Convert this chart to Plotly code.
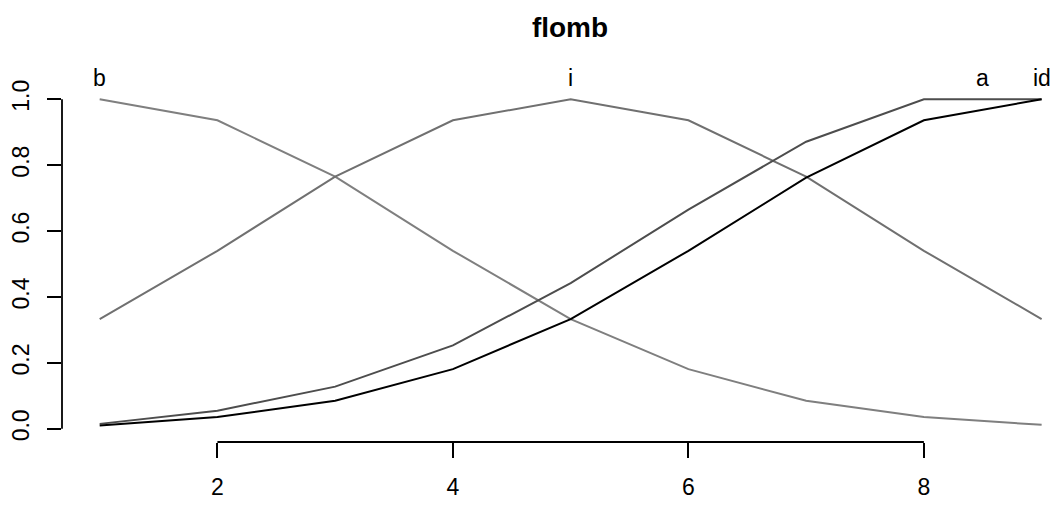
import plotly.graph_objects as go

# Membership curves over the 1..9 scale
x_vals = [1, 2, 3, 4, 5, 6, 7, 8, 9]
b_vals = [1.0, 0.936, 0.765, 0.54, 0.333, 0.181, 0.085, 0.036, 0.012]
i_vals = [0.333, 0.54, 0.765, 0.936, 1.0, 0.936, 0.765, 0.54, 0.333]
a_vals = [0.015, 0.055, 0.128, 0.253, 0.442, 0.665, 0.871, 1.0, 1.0]
id_vals = [0.01, 0.036, 0.085, 0.181, 0.333, 0.54, 0.762, 0.936, 1.0]

series_names = ["b", "i", "a", "id"]
label_x = [1, 5, 8.5, 9]
label_y = 1.064
x_ticks = [2, 4, 6, 8]
y_ticks = [0.0, 0.2, 0.4, 0.6, 0.8, 1.0]
y_tick_text = ["0.0", "0.2", "0.4", "0.6", "0.8", "1.0"]

colors = {"b": "#7f7f7f", "i": "#707070", "a": "#4d4d4d", "id": "#000000"}
font_family = "Liberation Sans, Arial, sans-serif"

y_range = [-0.04, 1.04]

fig = go.Figure()
for name, ys in zip(series_names, [b_vals, i_vals, a_vals, id_vals]):
    fig.add_trace(go.Scatter(
        x=x_vals, y=ys, mode="lines", name=name,
        line=dict(color=colors[name], width=2),
        hoverinfo="skip", showlegend=False, cliponaxis=False,
    ))

# Series labels above the plot area (converted to paper units so they are not clipped)
label_paper_y = (label_y - y_range[0]) / (y_range[1] - y_range[0])
for name, lx in zip(series_names, label_x):
    fig.add_annotation(
        x=lx, y=label_paper_y, xref="x", yref="paper", text=name, showarrow=False,
        font=dict(family=font_family, size=23, color="black"),
        xanchor="center", yanchor="middle",
    )

# Axis lines spanning only the first to last tick
fig.add_shape(type="line", xref="x", yref="paper", x0=x_ticks[0], x1=x_ticks[-1],
              y0=0, y1=0, line=dict(color="black", width=1.8))
fig.add_shape(type="line", xref="paper", yref="y", x0=0, x1=0,
              y0=y_ticks[0], y1=y_ticks[-1], line=dict(color="black", width=1.8))

fig.update_layout(
    width=1058, height=505,
    margin=dict(l=61.5, r=0, t=85.8, b=62.8),
    paper_bgcolor="white", plot_bgcolor="white",
    title=dict(text="<b>flomb</b>", x=570 / 1058, xanchor="center",
               y=1 - 27 / 505, yanchor="middle", yref="container",
               font=dict(family=font_family, size=28, color="black")),
    font=dict(family=font_family, size=23, color="black"),
    xaxis=dict(range=[0.68, 9.139], tickvals=x_ticks, ticks="outside", ticklen=15,
               tickwidth=1.8, tickcolor="black", showgrid=False, zeroline=False,
               showline=False, tickfont=dict(size=23), ticklabelstandoff=9),
    yaxis=dict(range=y_range, tickvals=y_ticks, ticktext=y_tick_text,
               ticks="outside", ticklen=14, tickwidth=1.8, tickcolor="black",
               showgrid=False, zeroline=False, showline=False, tickangle=-90,
               tickfont=dict(size=23), ticklabelstandoff=9),
)

fig.write_html("out.html")
